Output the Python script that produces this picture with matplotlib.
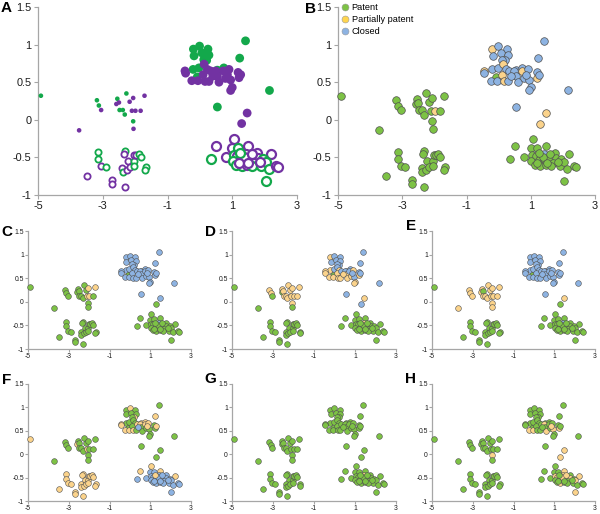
import matplotlib
matplotlib.use("Agg")
import matplotlib.pyplot as plt
from matplotlib.lines import Line2D

plt.rcParams['font.family'] = ['Liberation Sans', 'DejaVu Sans']

# ---------------- data: shared point positions ----------------
# upper-left cluster (ids 0-19)
x_ul = [-4.91, -3.73, -3.18, -3.12, -3.05, -2.55, -2.58, -2.50, -2.27, -2.48,
        -2.38, -2.32, -2.17, -2.06, -2.10, -1.99, -1.83, -1.71, -2.06, -2.05]
y_ul = [0.32, -0.14, 0.26, 0.19, 0.13, 0.28, 0.21, 0.23, 0.35, 0.13,
        0.13, 0.07, 0.24, 0.29, 0.12, 0.12, 0.12, 0.32, -0.02, -0.12]
# lower-left cluster (ids 20-42)
x_ll = [-3.14, -3.14, -3.04, -2.91, -3.50, -2.70, -2.70, -2.32, -2.32, -2.35,
        -2.22, -2.39, -2.38, -2.25, -2.17, -2.04, -2.04, -2.02, -1.96, -1.88,
        -1.81, -1.66, -1.69]
y_ll = [-0.43, -0.52, -0.61, -0.63, -0.75, -0.80, -0.86, -0.89, -0.42, -0.45,
        -0.55, -0.64, -0.70, -0.67, -0.63, -0.55, -0.61, -0.47, -0.47, -0.45,
        -0.49, -0.63, -0.67]
# upper-right cluster (ids 43-85)
x_ur = [-0.20, -0.01, 0.25, -0.18, 0.06, 0.28, 0.21, -0.21, -0.03, 0.54,
        0.74, -0.08, 1.41, 1.23, 2.15, 0.54, 0.12,
        -0.46, -0.44, -0.25, -0.06, 0.13, 0.23, 0.10, 0.33, 0.16, 0.28,
        0.49, 0.54, 0.59, 0.72, 0.79, 0.90, 0.95, 1.00, 0.95, 1.18,
        1.21, 1.26, 0.40, 0.85, 1.46, 1.29]
y_ur = [0.94, 0.98, 0.94, 0.85, 0.89, 0.86, 0.79, 0.67, 0.69, 0.66,
        0.69, 0.57, 1.05, 0.82, 0.39, 0.17, 0.80,
        0.65, 0.62, 0.52, 0.52, 0.74, 0.67, 0.60, 0.65, 0.51, 0.51,
        0.65, 0.58, 0.50, 0.65, 0.55, 0.67, 0.53, 0.43, 0.39, 0.63,
        0.56, 0.60, 0.58, 0.60, 0.09, -0.05]
# lower-right cluster (ids 86-120)
x_lr = [1.06, 0.50, 0.34, 0.80, 1.00, 1.18, 1.48, 1.42, 1.05, 1.15,
        1.75, 2.20, 1.02, 1.12, 1.27, 1.40, 1.55, 1.78, 1.95, 1.30,
        1.47, 1.68, 1.90, 2.03, 2.13, 2.35, 2.42, 2.04, 1.37, 1.60,
        1.25, 1.62, 1.85, 1.20, 1.50]
y_lr = [-0.25, -0.35, -0.52, -0.50, -0.38, -0.37, -0.35, -0.45, -0.47, -0.48,
        -0.44, -0.46, -0.55, -0.60, -0.54, -0.52, -0.52, -0.51, -0.52, -0.62,
        -0.60, -0.58, -0.62, -0.56, -0.65, -0.62, -0.63, -0.81, -0.49, -0.45,
        -0.44, -0.62, -0.56, -0.58, -0.57]

x_all = x_ul + x_ll + x_ur + x_lr
y_all = y_ul + y_ll + y_ur + y_lr

# panel A: colour (g/p) and marker kind per point
a_color = ("gpggpgppggggppppppgp"
           "ggpgppppgpppgppggppgggg"
           "ggggggggggggggggg" "pppppppppppppppppppppppppp"
           "ppgppgppgpppggppppggppgggppgppggppp")
a_kind = ("s" * 20) + ("o" * 23) + ("L" * 43) + ("H" * 35)

# panels B-H: P = patent, Q = partially patent, C = closed
cat_B = ("PPPPPPPPPPPPPPPQPPPP"
         "PPPPPPPPPPPPPPPPPPPPPPP"
         "QCCCCCCCCCCPCCCCCQCCCQCQCQCCCCQCCCCCCQCCCQQ"
         "PPPPPPPCPPPPPPPPPPPPPPPPPPPPPPPPPPP")
cat_C = ("PPPPPPPPPPPPPQQQPQPP"
         "PPPPPPPPPPPPPPPPPPPPPPP"
         "CCCCCCCCCCCPCCCCCCCCCCCCCCCCCCCCCCCCCCCCCCP"
         "PPPPPPPCPPPPPPPPPPPPPPPPPPPPPPPPPPP")
cat_D = ("PPQQPQPQQQQQQQQQQQQP"
         "PPPPPPPPPPPPPPPPPPPPPPP"
         "QCCCCCCQCQCPCCCCCQQQQCQQCQQCQQCQQCQQCQCQCQC"
         "PPPPPPPQPPPPPPPPPPPPPPPPPPPPPPPPPPP")
cat_E = ("PQQQQQQPQQQQQQQQQQQQ"
         "PPPPPPPPPPPPPPPPPPPPPPP"
         "CCCCCCCCCCCPCCCCCCCCCCCCCCCCCCCCCCCCCCCCCQP"
         "PPPPPPPCPPPPPPPPPPPPPPPPPPPPPPPPPPP")
cat_F = ("QPPPPPQPPPPPPPQPPPPP"
         "QQQQQQQQQQQQQQQQQQQQQQQ"
         "PQPPPPQPPQQPPQPPPQQQQPPPQQPQPPQPQPPPPPQCQPP"
         "QQCCCCQCCCCQCCCCCCCCCCCCCCCCCCQCCCC")
cat_G = ("PPPPPPPPPPPPPPPPPPPP"
         "PPPPPPPPPPPPPPPPPPPPPPP"
         "PPPPPPPPPPPPPPPPPPPPPPPPPPPPPPPPPPPPPPPPPPP"
         "PPPPPPPQPPPPPPPPPPPPPPPPPPPPPPPPPPP")
cat_H = ("PPPPPPPPPPPPPPPPPPQP"
         "PPPPPPPPPPPPPPPPPPPPPPP"
         "PPPPPPPPPPPPPPPPPPPQQPPPPPPQPQPPPQPPPQPPQQQ"
         "PPPPPPQQQQPQPPPPPQPQPPPQPPPQQQPPPPP")

x_ticks = [-5, -3, -1, 1, 3]
x_tick_labels = ["-5", "-3", "-1", "1", "3"]
y_ticks = [-1, -0.5, 0, 0.5, 1, 1.5]
y_tick_labels = ["-1", "-0.5", "0", "0.5", "1", "1.5"]
legend_labels = ["Patent", "Partially patent", "Closed"]

# ---------------- styling ----------------
GREEN_A, PURPLE_A = '#13a84b', '#7232a2'
CAT_COL = {'P': '#7dc245', 'Q': '#fbd38b', 'C': '#8db3e2'}
LEG_COL = ['#7dc245', '#ffd54f', '#8db3e2']
EDGE = '#505050'
SPINE = '#a6a6a6'

W, H = 600, 514
fig = plt.figure(figsize=(6, 5.14), dpi=100)


def add_ax(x0, x1, ytop, ybot):
    return fig.add_axes([x0 / W, 1 - ybot / H, (x1 - x0) / W, (ybot - ytop) / H])


def style(ax, fs, tl, pad):
    ax.set_xlim(-5, 3)
    ax.set_ylim(-1, 1.5)
    ax.set_xticks(x_ticks)
    ax.set_xticklabels(x_tick_labels)
    ax.set_yticks(y_ticks)
    ax.set_yticklabels(y_tick_labels)
    for s in ['top', 'right']:
        ax.spines[s].set_visible(False)
    for s in ['left', 'bottom']:
        ax.spines[s].set_color(SPINE)
        ax.spines[s].set_linewidth(0.9)
    ax.tick_params(length=tl, width=0.8, color=SPINE, labelsize=fs,
                   pad=pad, labelcolor='#1a1a1a')
    ax.patch.set_alpha(0)


def draw_cat(ax, cats, s, lw):
    for i in range(len(x_all)):
        ax.scatter(x_all[i], y_all[i], s=s, c=CAT_COL[cats[i]],
                   edgecolors=EDGE, linewidths=lw, clip_on=False, zorder=3)


# Panel A
axA = add_ax(38, 297, 7, 195)
style(axA, 7.8, 3, 1.5)
kind_size = {'s': 11, 'o': 20, 'L': 40, 'H': 42}
kind_lw = {'s': 0, 'o': 1.3, 'L': 0, 'H': 1.6}
for i in range(len(x_all)):
    col = GREEN_A if a_color[i] == 'g' else PURPLE_A
    k = a_kind[i]
    if k in ('s', 'L'):
        axA.scatter(x_all[i], y_all[i], s=kind_size[k], c=col,
                    edgecolors='none', clip_on=False, zorder=3)
    else:
        axA.scatter(x_all[i], y_all[i], s=kind_size[k], facecolors='white',
                    edgecolors=col, linewidths=kind_lw[k], clip_on=False, zorder=3)

# Panel B
axB = add_ax(338, 595, 7, 195)
style(axB, 7.8, 3, 1.5)
draw_cat(axB, cat_B, 30, 0.5)
handles = [Line2D([], [], marker='o', ls='none', markersize=5,
                  markerfacecolor=LEG_COL[j], markeredgecolor='#9a9a9a',
                  markeredgewidth=0.4) for j in range(3)]
fig.legend(handles, legend_labels, loc='upper left',
           bbox_to_anchor=(341 / W, 1 - 3 / H), frameon=False, fontsize=6.6,
           handlelength=0.8, handletextpad=0.35, labelspacing=0.33,
           borderpad=0, borderaxespad=0)

# small panels
small = [(cat_C, 28, 191, 231, 349), (cat_D, 232, 396, 231, 349),
         (cat_E, 432, 595, 231, 349), (cat_F, 28, 191, 384, 501),
         (cat_G, 232, 396, 384, 501), (cat_H, 432, 595, 384, 501)]
for cats, x0, x1, yt, yb in small:
    ax = add_ax(x0, x1, yt, yb)
    style(ax, 4.9, 2, 1.0)
    draw_cat(ax, cats, 17, 0.4)

# panel letters
letters = [("A", 6.5, 8), ("B", 310, 9), ("C", 6.5, 232), ("D", 210, 232),
           ("E", 411, 226), ("F", 6.5, 380), ("G", 210, 379), ("H", 410, 379)]
for t, px, py in letters:
    fig.text(px / W, 1 - py / H, t, fontsize=11, fontweight='bold',
             ha='center', va='center')

fig.savefig("out.png", dpi=100)
